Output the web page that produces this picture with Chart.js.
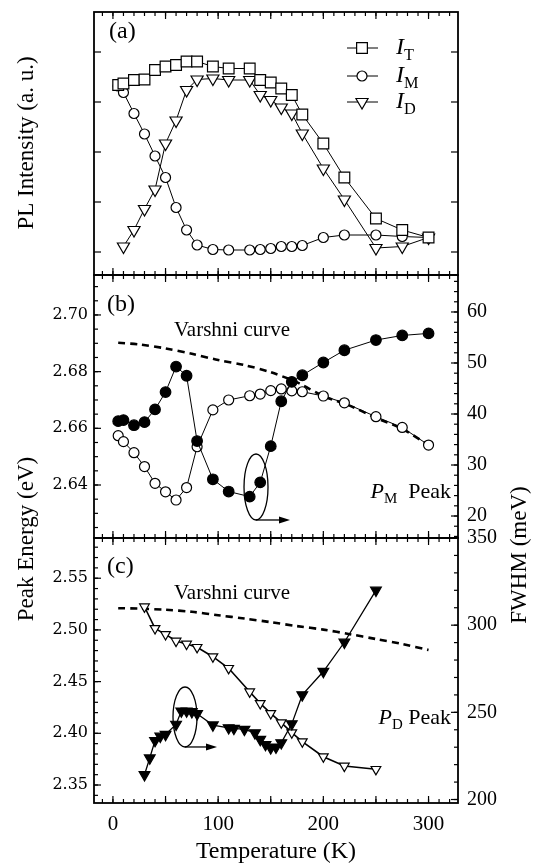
<!DOCTYPE html>
<html>
<head>
<meta charset="utf-8">
<title>PL temperature dependence</title>
<script src="https://cdn.jsdelivr.net/npm/chart.js@4.4.1/dist/chart.umd.min.js"></script>
<style>
  html, body { margin: 0; padding: 0; background: #fff; }
  #wrap { position: relative; width: 533px; height: 865px; }
  #wrap canvas { position: absolute; left: 0; top: 0; }
</style>
</head>
<body>
<div id="wrap">
  <canvas id="panelA" width="533" height="865"></canvas>
  <canvas id="panelB" width="533" height="865"></canvas>
  <canvas id="panelC" width="533" height="865"></canvas>
</div>
<script>
// temperature axis
const tempTicks = [0, 100, 200, 300];
const tempMin = -18, tempMax = 328;

// (a) integrated intensities
const tempA = [5, 10, 20, 30, 40, 50, 60, 70, 80, 95, 110, 130, 140, 150, 160, 170, 180, 200, 220, 250, 275, 300];
const intT = [3.34, 3.37, 3.44, 3.45, 3.64, 3.71, 3.74, 3.81, 3.81, 3.71, 3.67, 3.67, 3.44, 3.39, 3.27, 3.14, 2.75, 2.17, 1.49, 0.67, 0.44, 0.29];
const intM = [3.32, 3.19, 2.77, 2.36, 1.92, 1.49, 0.89, 0.44, 0.14, 0.05, 0.04, 0.04, 0.05, 0.07, 0.11, 0.11, 0.13, 0.29, 0.34, 0.34, 0.31, 0.29];
const intD = [null, 0.11, 0.44, 0.86, 1.25, 2.17, 2.63, 3.24, 3.45, 3.47, 3.44, 3.44, 3.14, 3.04, 2.89, 2.77, 2.37, 1.67, 1.05, 0.08, 0.11, 0.29];
const intensityTicks = [0, 1, 2, 3, 4];

// (b) P_M peak
const energyM = [2.6574, 2.6553, 2.6514, 2.6465, 2.6406, 2.6376, 2.6347, 2.6391, 2.6535, 2.6665, 2.6700, 2.6715, 2.6721, 2.6733, 2.6739, 2.6732, 2.6729, 2.6714, 2.6690, 2.6641, 2.6603, 2.6541];
const fwhmM = [38.6, 38.8, 37.8, 38.4, 40.9, 44.3, 49.3, 47.5, 34.7, 27.2, 24.8, 23.8, 26.6, 33.7, 42.5, 46.3, 47.6, 50.1, 52.5, 54.5, 55.4, 55.8];
const energyTicksB = [2.64, 2.66, 2.68, 2.70];
const fwhmTicksB = [20, 30, 40, 50, 60];

// Varshni curves
const varshniT = [5, 25, 50, 75, 100, 125, 150, 175, 200, 225, 250, 275, 300];
const varshniM = [2.6902, 2.6896, 2.6882, 2.6863, 2.6841, 2.6823, 2.6798, 2.6762, 2.6714, 2.6680, 2.6637, 2.6598, 2.6541];
const varshniD = [2.5210, 2.5206, 2.5195, 2.5175, 2.5142, 2.5110, 2.5075, 2.5037, 2.5003, 2.4959, 2.4912, 2.4864, 2.4806];

// (c) P_D peak
const tempDE = [30, 40, 50, 60, 70, 80, 95, 110, 130, 140, 150, 160, 170, 180, 200, 220, 250];
const energyD = [2.5224, 2.5015, 2.4957, 2.4893, 2.4864, 2.4832, 2.4741, 2.4629, 2.4402, 2.4290, 2.4193, 2.4103, 2.4006, 2.3919, 2.3774, 2.3684, 2.3652];
const tempDW = [30, 35, 40, 45, 50, 60, 65, 70, 75, 80, 95, 110, 115, 125, 135, 140, 145, 150, 155, 160, 170, 180, 200, 220, 250];
const fwhmD = [214.2, 223.8, 233.8, 236.3, 237.3, 243.1, 250.7, 250.7, 250.3, 249.2, 242.7, 241.1, 240.8, 240.2, 238.2, 234.4, 231.5, 229.6, 230.0, 232.5, 243.4, 260.0, 273.4, 290.2, 320.0];
const energyTicksC = [2.35, 2.40, 2.45, 2.50, 2.55];
const fwhmTicksC = [200, 250, 300, 350];

const serif = '"Liberation Serif", "Times New Roman", serif';
const wideSerif = '"DejaVu Serif", serif';

const pts = (xs, ys) => xs.map((x, i) => ({ x: x, y: ys[i] }));
const setTicks = vals => s => { s.ticks = vals.map(v => ({ value: v })); };

function richText(ctx, parts, x, y, size, align) {
  const pieces = parts.map(p => {
    const s = p.sub ? size * 0.68 : size;
    const font = (p.italic ? 'italic ' : '') + s + 'px ' + serif;
    ctx.font = font;
    return { text: p.t, font: font, w: ctx.measureText(p.t).width, dy: p.sub ? size * 0.32 : 0 };
  });
  const total = pieces.reduce((a, p) => a + p.w, 0);
  let cx = align === 'right' ? x - total : align === 'center' ? x - total / 2 : x;
  ctx.textBaseline = 'middle';
  ctx.textAlign = 'left';
  ctx.fillStyle = '#000';
  pieces.forEach(p => { ctx.font = p.font; ctx.fillText(p.text, cx, y + p.dy); cx += p.w; });
}

function vText(ctx, text, x, y, size) {
  ctx.save();
  ctx.translate(x, y);
  ctx.rotate(-Math.PI / 2);
  ctx.font = size + 'px ' + serif;
  ctx.textAlign = 'center';
  ctx.textBaseline = 'middle';
  ctx.fillStyle = '#000';
  ctx.fillText(text, 0, 0);
  ctx.restore();
}

function edgeTicks(ctx, a, scale, step, len, edges) {
  const lo = Math.ceil(scale.min / step - 1e-6), hi = Math.floor(scale.max / step + 1e-6);
  for (let i = lo; i <= hi; i++) {
    const p = scale.getPixelForValue(i * step);
    edges.forEach(e => {
      ctx.beginPath();
      if (e === 'left') { ctx.moveTo(a.left, p); ctx.lineTo(a.left + len, p); }
      if (e === 'right') { ctx.moveTo(a.right, p); ctx.lineTo(a.right - len, p); }
      if (e === 'top') { ctx.moveTo(p, a.top); ctx.lineTo(p, a.top + len); }
      if (e === 'bottom') { ctx.moveTo(p, a.bottom); ctx.lineTo(p, a.bottom - len); }
      ctx.stroke();
    });
  }
}

function oval(chart, ctx, o) {
  const cx = chart.scales.x.getPixelForValue(o.t);
  const cy = chart.scales[o.axis].getPixelForValue(o.v);
  ctx.lineWidth = 1.3;
  ctx.beginPath();
  ctx.ellipse(cx, cy, o.rx, o.ry, 0, 0, Math.PI * 2);
  ctx.stroke();
  const by = cy + o.ry, ex = cx + o.len;
  ctx.beginPath(); ctx.moveTo(cx, by); ctx.lineTo(ex - 8, by); ctx.stroke();
  ctx.beginPath(); ctx.moveTo(ex, by); ctx.lineTo(ex - 11, by - 3.5); ctx.lineTo(ex - 11, by + 3.5); ctx.closePath(); ctx.fill();
}

function framePlugin(cfg) {
  return {
    id: 'frame',
    afterDraw(chart) {
      const { ctx, chartArea: a, scales } = chart;
      ctx.save();
      ctx.strokeStyle = '#000';
      ctx.fillStyle = '#000';
      ctx.lineWidth = 1.2;
      edgeTicks(ctx, a, scales.x, 10, 4, ['top', 'bottom']);
      edgeTicks(ctx, a, scales.x, 50, 7, ['top', 'bottom']);
      cfg.ticks.forEach(t => edgeTicks(ctx, a, scales[t.axis], t.step, t.len, [t.edge]));
      ctx.lineWidth = 1.8;
      ctx.strokeRect(a.left, a.top, a.right - a.left, a.bottom - a.top);
      if (cfg.extra) cfg.extra(chart, ctx);
      ctx.restore();
    }
  };
}

function xScale(show) {
  return {
    type: 'linear', min: tempMin, max: tempMax, display: show,
    grid: { display: false, drawTicks: false }, border: { display: false },
    ticks: { color: '#000', font: { family: serif, size: 21 }, padding: 9, autoSkip: false, maxRotation: 0 },
    afterBuildTicks: setTicks(tempTicks),
    afterFit: s => { s.height = show ? 62 : 0; }
  };
}

function yScale(pos, min, max, vals, fmt, font, width) {
  return {
    type: 'linear', position: pos, min: min, max: max,
    grid: { display: false, drawTicks: false }, border: { display: false },
    ticks: { color: '#000', font: font, padding: pos === 'left' ? 6 : 9, autoSkip: false, callback: fmt },
    afterBuildTicks: setTicks(vals),
    afterFit: s => { s.width = width; }
  };
}

function lineSet(data, axis, style, filled, radius, extra) {
  return Object.assign({
    data: data, yAxisID: axis, borderColor: '#000', borderWidth: 1, tension: 0,
    pointStyle: style, pointRadius: radius, pointBorderWidth: 1.2,
    pointBorderColor: '#000', pointBackgroundColor: filled ? '#000' : '#fff'
  }, extra || {});
}

function dashed(data, axis) {
  return { data: data, yAxisID: axis, borderColor: '#000', borderWidth: 2.6, borderDash: [7, 5], pointRadius: 0, tension: 0.3 };
}

const common = {
  responsive: false, animation: false, events: [],
  plugins: { legend: { display: false }, tooltip: { enabled: false } }
};

// panel (a)
new Chart(document.getElementById('panelA'), {
  type: 'line',
  data: { datasets: [
    lineSet(pts(tempA, intT), 'y', 'rect', false, 7.6),
    lineSet(pts(tempA, intM), 'y', 'circle', false, 5),
    lineSet(pts(tempA, intD), 'y', 'triangle', false, 7, { pointRotation: 180 })
  ] },
  options: Object.assign({}, common, {
    layout: { padding: { top: 12, bottom: 590, left: 94, right: 75 } },
    scales: {
      x: xScale(false),
      y: { type: 'linear', display: false, min: -0.46, max: 4.8, afterBuildTicks: setTicks(intensityTicks) }
    }
  }),
  plugins: [framePlugin({
    ticks: [{ axis: 'y', step: 1, len: 7, edge: 'left' }, { axis: 'y', step: 1, len: 7, edge: 'right' }],
    extra(chart, ctx) {
      richText(ctx, [{ t: '(a)' }], 109, 32, 24, 'left');
      const rows = [
        { style: 'rect', r: 7.6, rot: 0, y: 48, sub: 'T' },
        { style: 'circle', r: 5, rot: 0, y: 76, sub: 'M' },
        { style: 'triangle', r: 7, rot: 180, y: 102, sub: 'D' }
      ];
      rows.forEach(row => {
        ctx.lineWidth = 1;
        ctx.beginPath(); ctx.moveTo(347, row.y); ctx.lineTo(378, row.y); ctx.stroke();
        ctx.fillStyle = '#fff'; ctx.lineWidth = 1.2;
        Chart.helpers.drawPoint(ctx, { pointStyle: row.style, radius: row.r, rotation: row.rot, borderWidth: 1.2 }, 362, row.y);
        ctx.fillStyle = '#000';
        richText(ctx, [{ t: 'I', italic: true }, { t: row.sub, sub: true }], 396, row.y, 24, 'left');
      });
    }
  })]
});

// panel (b)
const ovalB = { t: 136, v: 2.6393, axis: 'y', rx: 12, ry: 33, len: 34 };
new Chart(document.getElementById('panelB'), {
  type: 'line',
  data: { datasets: [
    lineSet(pts(tempA, fwhmM), 'y2', 'circle', true, 5.3),
    lineSet(pts(tempA, energyM), 'y', 'circle', false, 5),
    dashed(pts(varshniT, varshniM), 'y')
  ] },
  options: Object.assign({}, common, {
    layout: { padding: { top: 275, bottom: 327, left: 0, right: 0 } },
    scales: {
      x: xScale(false),
      y: yScale('left', 2.6213, 2.7141, energyTicksB, v => v.toFixed(2), { family: wideSerif, size: 16 }, 94),
      y2: yScale('right', 15.69, 67.25, fwhmTicksB, v => String(v), { family: serif, size: 20 }, 75)
    }
  }),
  plugins: [framePlugin({
    ticks: [
      { axis: 'y', step: 0.02, len: 7, edge: 'left' }, { axis: 'y', step: 0.005, len: 4, edge: 'left' },
      { axis: 'y2', step: 10, len: 7, edge: 'right' }, { axis: 'y2', step: 2, len: 4, edge: 'right' }
    ],
    extra(chart, ctx) {
      richText(ctx, [{ t: '(b)' }], 107, 305, 24, 'left');
      richText(ctx, [{ t: 'Varshni curve' }], 174, 330, 21, 'left');
      richText(ctx, [{ t: 'P', italic: true }, { t: 'M', sub: true }, { t: '  Peak' }], 451, 492, 22, 'right');
      oval(chart, ctx, ovalB);
    }
  })]
});

// panel (c)
const ovalC = { t: 68.5, v: 2.4158, axis: 'y', rx: 12, ry: 30, len: 32 };
new Chart(document.getElementById('panelC'), {
  type: 'line',
  data: { datasets: [
    lineSet(pts(tempDW, fwhmD), 'y2', 'triangle', true, 6.2, { pointRotation: 180, borderWidth: 1.3 }),
    lineSet(pts(tempDE, energyD), 'y', 'triangle', false, 5.6, { pointRotation: 180, borderWidth: 1.6 }),
    dashed(pts(varshniT, varshniD), 'y')
  ] },
  options: Object.assign({}, common, {
    layout: { padding: { top: 538, bottom: 0, left: 0, right: 0 } },
    scales: {
      x: xScale(true),
      y: yScale('left', 2.3326, 2.5889, energyTicksC, v => v.toFixed(2), { family: wideSerif, size: 16 }, 94),
      y2: yScale('right', 198, 350, fwhmTicksC, v => String(v), { family: serif, size: 20 }, 75)
    }
  }),
  plugins: [framePlugin({
    ticks: [
      { axis: 'y', step: 0.05, len: 7, edge: 'left' }, { axis: 'y', step: 0.01, len: 4, edge: 'left' },
      { axis: 'y2', step: 50, len: 7, edge: 'right' }, { axis: 'y2', step: 10, len: 4, edge: 'right' }
    ],
    extra(chart, ctx) {
      richText(ctx, [{ t: '(c)' }], 107, 567, 24, 'left');
      richText(ctx, [{ t: 'Varshni curve' }], 174, 593, 21, 'left');
      richText(ctx, [{ t: 'P', italic: true }, { t: 'D', sub: true }, { t: ' Peak' }], 451, 718, 22, 'right');
      oval(chart, ctx, ovalC);
      vText(ctx, 'PL Intensity (a. u.)', 27, 143, 23);
      vText(ctx, 'Peak Energy (eV)', 27, 539, 23);
      vText(ctx, 'FWHM (meV)', 520, 555, 23);
      ctx.font = '24px ' + serif;
      ctx.textAlign = 'center';
      ctx.textBaseline = 'middle';
      ctx.fillText('Temperature (K)', (chart.chartArea.left + chart.chartArea.right) / 2, 852);
    }
  })]
});
</script>
</body>
</html>
